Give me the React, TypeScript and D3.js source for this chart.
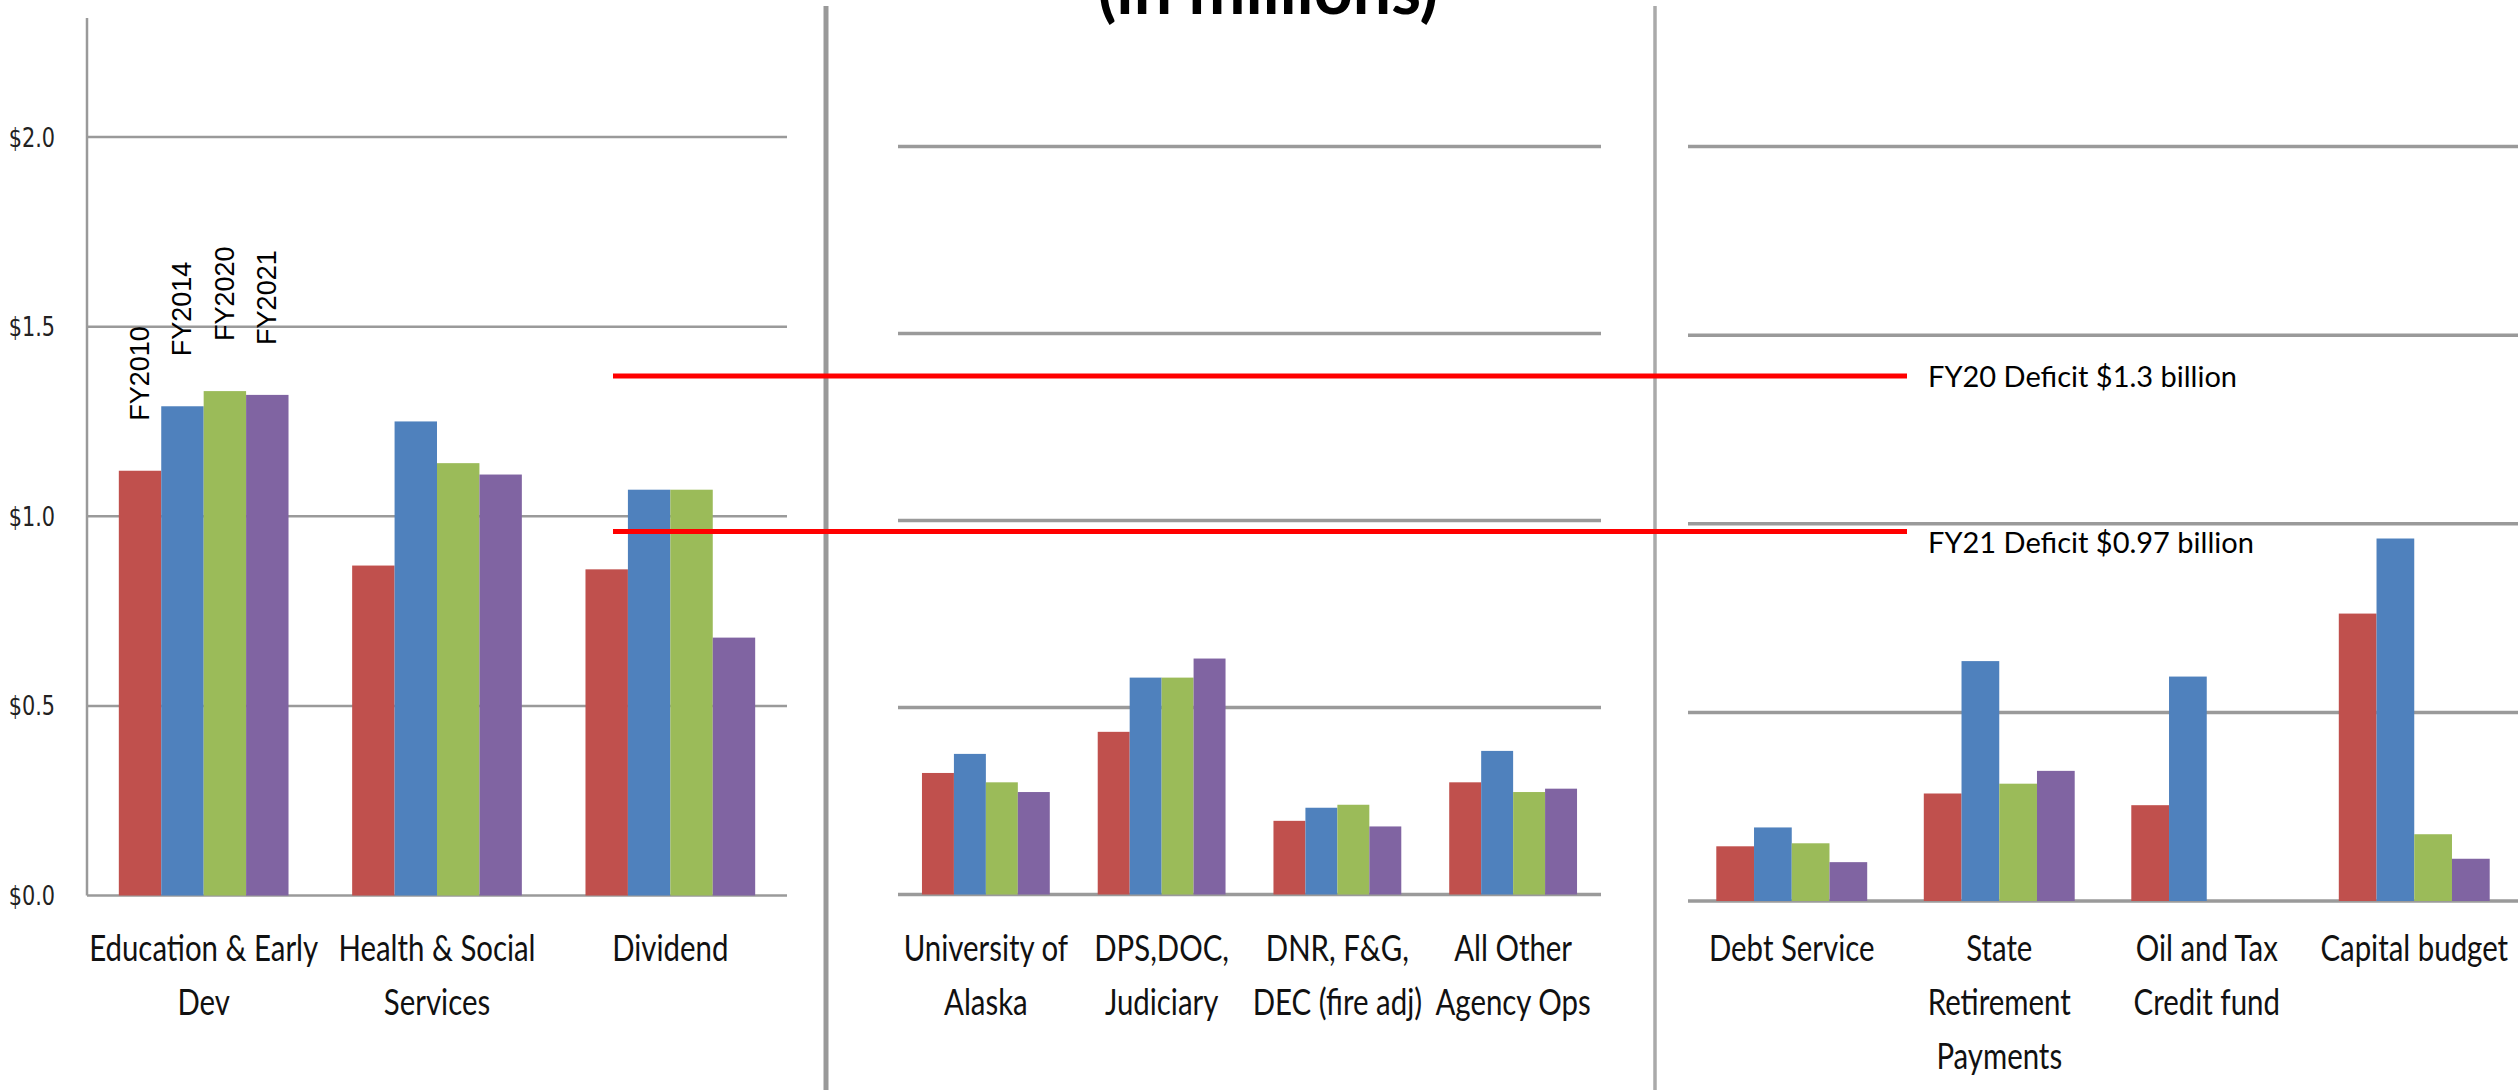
import * as d3 from "d3";

// fiscal years shown in each cluster
const seriesNames = ["FY2010", "FY2014", "FY2020", "FY2021"];
const seriesColors = ["#C0504D", "#4F81BD", "#9BBB59", "#8064A2"];

// left panel (big-ticket items)
const bigCategories = ["Education & Early\nDev", "Health & Social\nServices", "Dividend"];
const bigFY2010 = [1.12, 0.87, 0.86];
const bigFY2014 = [1.29, 1.25, 1.07];
const bigFY2020 = [1.33, 1.14, 1.07];
const bigFY2021 = [1.32, 1.11, 0.68];

// middle panel (agency operations)
const agencyCategories = ["University of\nAlaska", "DPS,DOC,\nJudiciary", "DNR, F&G,\nDEC (fire adj)", "All Other\nAgency Ops"];
const agencyFY2010 = [0.325, 0.435, 0.197, 0.3];
const agencyFY2014 = [0.376, 0.58, 0.232, 0.384];
const agencyFY2020 = [0.3, 0.58, 0.24, 0.274];
const agencyFY2021 = [0.274, 0.631, 0.182, 0.283];

// right panel (other obligations)
const otherCategories = ["Debt Service", "State\nRetirement\nPayments", "Oil and Tax\nCredit fund", "Capital budget"];
const otherFY2010 = [0.145, 0.285, 0.254, 0.762];
const otherFY2014 = [0.195, 0.636, 0.595, 0.961];
const otherFY2020 = [0.153, 0.311, 0, 0.177];
const otherFY2021 = [0.103, 0.345, 0, 0.112];

const yTicks = [0, 0.5, 1.0, 1.5, 2.0];
const yTickLabels = ["$0.0", "$0.5", "$1.0", "$1.5", "$2.0"];

// deficit reference lines, drawn in the left panel's scale
const deficitLabels = ["FY20 Deficit $1.3 billion", "FY21 Deficit $0.97 billion"];
const deficitLevels = [1.37, 0.96];

const W = 2519;
const H = 1090;
const labelFont = "Lato, 'Open Sans', sans-serif";

type Panel = {
    categories: string[];
    series: number[][];
    x0: number;
    x1: number;
    zeroY: number;
    topY: number; // pixel of $2.0
    thin: boolean;
};

const panels: Panel[] = [
    { categories: bigCategories, series: [bigFY2010, bigFY2014, bigFY2020, bigFY2021], x0: 87, x1: 787, zeroY: 895.5, topY: 137, thin: true },
    { categories: agencyCategories, series: [agencyFY2010, agencyFY2014, agencyFY2020, agencyFY2021], x0: 898, x1: 1601, zeroY: 894.5, topY: 146.6, thin: false },
    { categories: otherCategories, series: [otherFY2010, otherFY2014, otherFY2020, otherFY2021], x0: 1688, x1: 2518, zeroY: 901, topY: 146.6, thin: false },
];

function PanelChart({ p, idx }: { p: Panel; idx: number }) {
    const gap = 1.5 / 5.5;
    const x = d3.scaleBand<string>().domain(p.categories).range([p.x0, p.x1]).paddingInner(gap).paddingOuter(gap / 2);
    const inner = d3.scaleBand<string>().domain(seriesNames).range([0, x.bandwidth()]);
    const y = d3.scaleLinear().domain([0, 2]).range([p.zeroY, p.topY]);
    const gridColor = "#9a9a9a";

    return (
        <g>
            {yTicks.map(t => (
                <line key={t} x1={p.x0} x2={p.x1} y1={y(t)} y2={y(t)} stroke={gridColor} strokeWidth={p.thin ? 2.5 : 3.5} />
            ))}
            {idx === 0 && (
                <line x1={p.x0} x2={p.x0} y1={y(2.314)} y2={y(0)} stroke={gridColor} strokeWidth={2.5} />
            )}
            {idx === 0 &&
                yTicks.map((t, i) => (
                    <text
                        key={t}
                        transform={`translate(55,${y(t)}) scale(0.8,1.05)`}
                        textAnchor="end"
                        dominantBaseline="central"
                        fontFamily="'DejaVu Sans', Verdana, sans-serif"
                        fontSize={26}
                        fill="#222"
                    >
                        {yTickLabels[i]}
                    </text>
                ))}
            {p.series.map((vals, si) =>
                vals.map((v, ci) =>
                    v > 0 ? (
                        <rect
                            key={`${si}-${ci}`}
                            x={(x(p.categories[ci]) ?? 0) + (inner(seriesNames[si]) ?? 0)}
                            y={y(v)}
                            width={inner.bandwidth()}
                            height={y(0) - y(v)}
                            fill={seriesColors[si]}
                        />
                    ) : null
                )
            )}
            {idx === 0 &&
                seriesNames.map((s, si) => {
                    const cx = (x(p.categories[0]) ?? 0) + (inner(s) ?? 0) + inner.bandwidth() / 2;
                    const top = y(p.series[si][0]) - 50;
                    return (
                        <text
                            key={s}
                            transform={`translate(${cx},${top}) rotate(-90)`}
                            dominantBaseline="central"
                            fontFamily="'Liberation Sans', Arial, sans-serif"
                            fontSize={27}
                            fill="#000"
                        >
                            {s}
                        </text>
                    );
                })}
            {p.categories.map(c => {
                const cx = (x(c) ?? 0) + x.bandwidth() / 2;
                return c.split("\n").map((line, li) => (
                    <text
                        key={c + li}
                        transform={`translate(${cx},${961 + li * 54}) scale(0.84,1.04)`}
                        textAnchor="middle"
                        fontFamily={labelFont}
                        fontSize={35}
                        fill="#111"
                    >
                        {line}
                    </text>
                ));
            })}
        </g>
    );
}

export default function App() {
    const y1 = d3.scaleLinear().domain([0, 2]).range([panels[0].zeroY, panels[0].topY]);
    return (
        <svg width={W} height={H} style={{ position: "absolute", left: 0, top: 0, background: "#fff" }}>
            <rect width={W} height={H} fill="#fff" />
            <text x={1268} y={14} textAnchor="middle" fontFamily={labelFont} fontWeight={700} fontSize={68} fill="#000">
                (in millions)
            </text>
            <line x1={826} x2={826} y1={6} y2={H} stroke="#999" strokeWidth={5} />
            <line x1={1655} x2={1655} y1={6} y2={H} stroke="#aaa" strokeWidth={3.5} />
            {panels.map((p, i) => (
                <PanelChart key={i} p={p} idx={i} />
            ))}
            {deficitLevels.map((v, i) => (
                <g key={i}>
                    <line x1={613} x2={1907} y1={y1(v)} y2={y1(v)} stroke="#ff0000" strokeWidth={5} />
                    <text
                        x={1928}
                        y={y1(v) + (i === 0 ? 0 : 10)}
                        dominantBaseline="central"
                        fontFamily={labelFont}
                        fontSize={29}
                        fill="#000"
                    >
                        {deficitLabels[i]}
                    </text>
                </g>
            ))}
        </svg>
    );
}
